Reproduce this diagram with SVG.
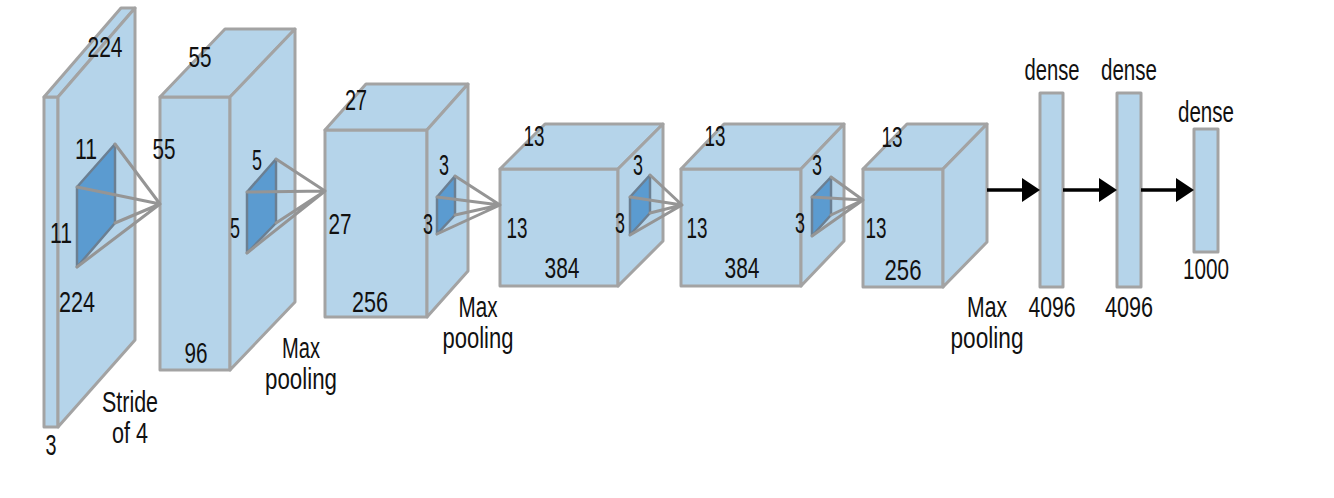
<svg xmlns="http://www.w3.org/2000/svg" width="1334" height="498" viewBox="0 0 1334 498">
<defs>
<style>
.box{fill:#b5d4ea;stroke:#a3a3a3;stroke-width:3;stroke-linejoin:round}
.flt{fill:#5b9bd0;stroke:#6b7f92;stroke-width:2.5;stroke-linejoin:round}
.ray{stroke:#959595;stroke-width:3;fill:none;stroke-linecap:round}
.arr{stroke:#000;stroke-width:3.5;fill:none}
.head{fill:#000}
text{font-family:"Liberation Sans",Arial,sans-serif;font-size:29px;fill:#111;text-anchor:middle}
</style>
</defs>
<rect width="1334" height="498" fill="#fff"/>
<g id="input">
<rect class="box" x="44" y="97" width="14" height="330"/>
<polygon class="box" points="44,97 121,8 135,8 58,97"/>
<polygon class="box" points="58,97 135,8 135,340 58,427"/>
<polygon class="flt" points="77,187 115,144 115,223 77,267"/>
<text x="105" y="57" textLength="35" lengthAdjust="spacingAndGlyphs">224</text>
<text x="86" y="159" textLength="22" lengthAdjust="spacingAndGlyphs">11</text>
<text x="61" y="243" textLength="22" lengthAdjust="spacingAndGlyphs">11</text>
<text x="77" y="312" textLength="36" lengthAdjust="spacingAndGlyphs">224</text>
<text x="51" y="455" textLength="11" lengthAdjust="spacingAndGlyphs">3</text>
<text x="130" y="412" textLength="56" lengthAdjust="spacingAndGlyphs">Stride</text>
<text x="130" y="443" textLength="36" lengthAdjust="spacingAndGlyphs">of 4</text>
</g>
<g id="conv1">
<rect class="box" x="160" y="97" width="70" height="273"/>
<polygon class="box" points="160,97 225,29 295,29 230,97"/>
<polygon class="box" points="230,97 295,29 295,302 230,370"/>
<polygon class="flt" points="247,192 276,159 276,223 247,253"/>
<text x="200" y="67" textLength="23" lengthAdjust="spacingAndGlyphs">55</text>
<text x="164" y="159" textLength="23" lengthAdjust="spacingAndGlyphs">55</text>
<text x="196" y="363" textLength="23" lengthAdjust="spacingAndGlyphs">96</text>
<text x="257" y="170" textLength="10" lengthAdjust="spacingAndGlyphs">5</text>
<text x="235" y="238" textLength="10" lengthAdjust="spacingAndGlyphs">5</text>
<text x="301" y="358" textLength="38" lengthAdjust="spacingAndGlyphs">Max</text>
<text x="301" y="389" textLength="72" lengthAdjust="spacingAndGlyphs">pooling</text>
</g>
<g id="conv2">
<rect class="box" x="325" y="130" width="102" height="187"/>
<polygon class="box" points="325,130 366,84 468,84 427,130"/>
<polygon class="box" points="427,130 468,84 468,271 427,317"/>
<polygon class="flt" points="437,197 455,176 455,215 437,234"/>
<text x="356" y="110" textLength="22" lengthAdjust="spacingAndGlyphs">27</text>
<text x="340" y="234" textLength="23" lengthAdjust="spacingAndGlyphs">27</text>
<text x="370" y="312" textLength="36" lengthAdjust="spacingAndGlyphs">256</text>
<text x="444" y="175" textLength="10" lengthAdjust="spacingAndGlyphs">3</text>
<text x="428" y="234" textLength="10" lengthAdjust="spacingAndGlyphs">3</text>
<text x="478" y="317" textLength="39" lengthAdjust="spacingAndGlyphs">Max</text>
<text x="478" y="348" textLength="71" lengthAdjust="spacingAndGlyphs">pooling</text>
</g>
<g id="conv3">
<rect class="box" x="500" y="169" width="118" height="117"/>
<polygon class="box" points="500,169 545,124 663,124 618,169"/>
<polygon class="box" points="618,169 663,124 663,241 618,286"/>
<polygon class="flt" points="630,197 650,175 650,213 630,235"/>
<text x="534" y="146" textLength="21" lengthAdjust="spacingAndGlyphs">13</text>
<text x="517" y="238" textLength="21" lengthAdjust="spacingAndGlyphs">13</text>
<text x="562" y="278" textLength="35" lengthAdjust="spacingAndGlyphs">384</text>
<text x="638" y="175" textLength="10" lengthAdjust="spacingAndGlyphs">3</text>
<text x="620" y="233" textLength="10" lengthAdjust="spacingAndGlyphs">3</text>
</g>
<g id="conv4">
<rect class="box" x="681" y="169" width="120" height="117"/>
<polygon class="box" points="681,169 724,124 844,124 801,169"/>
<polygon class="box" points="801,169 844,124 844,241 801,286"/>
<polygon class="flt" points="812,197 831,177 831,215 812,236"/>
<text x="715" y="146" textLength="21" lengthAdjust="spacingAndGlyphs">13</text>
<text x="697" y="238" textLength="21" lengthAdjust="spacingAndGlyphs">13</text>
<text x="742" y="278" textLength="35" lengthAdjust="spacingAndGlyphs">384</text>
<text x="817" y="175" textLength="10" lengthAdjust="spacingAndGlyphs">3</text>
<text x="800" y="233" textLength="10" lengthAdjust="spacingAndGlyphs">3</text>
</g>
<g id="conv5">
<rect class="box" x="863" y="169" width="80" height="118"/>
<polygon class="box" points="863,169 907,124 987,124 943,169"/>
<polygon class="box" points="943,169 987,124 987,242 943,287"/>
<text x="892" y="147" textLength="21" lengthAdjust="spacingAndGlyphs">13</text>
<text x="876" y="238" textLength="21" lengthAdjust="spacingAndGlyphs">13</text>
<text x="903" y="280" textLength="37" lengthAdjust="spacingAndGlyphs">256</text>
<text x="987" y="317" textLength="40" lengthAdjust="spacingAndGlyphs">Max</text>
<text x="987" y="348" textLength="73" lengthAdjust="spacingAndGlyphs">pooling</text>
</g>
<g id="dense1">
<rect class="box" x="1040" y="93" width="23" height="194"/>
<text x="1052" y="80" textLength="55" lengthAdjust="spacingAndGlyphs">dense</text>
<text x="1052" y="317" textLength="47" lengthAdjust="spacingAndGlyphs">4096</text>
</g>
<g id="dense2">
<rect class="box" x="1117" y="93" width="24" height="194"/>
<text x="1129" y="80" textLength="56" lengthAdjust="spacingAndGlyphs">dense</text>
<text x="1129" y="317" textLength="48" lengthAdjust="spacingAndGlyphs">4096</text>
</g>
<g id="dense3">
<rect class="box" x="1194" y="129" width="24" height="123"/>
<text x="1206" y="122" textLength="56" lengthAdjust="spacingAndGlyphs">dense</text>
<text x="1206" y="279" textLength="46" lengthAdjust="spacingAndGlyphs">1000</text>
</g>
<g id="connectors">
<path class="ray" d="M115,144L160,204M77,187L160,204M115,223L160,204M77,267L160,204"/>
<path class="ray" d="M276,159L325,191M247,192L325,191M276,223L325,191M247,253L325,191"/>
<path class="ray" d="M455,176L500,205M437,197L500,205M455,215L500,205M437,234L500,205"/>
<path class="ray" d="M650,175L682,205M630,197L682,205M650,213L682,205M630,235L682,205"/>
<path class="ray" d="M831,177L863,200M812,197L863,200M831,215L863,200M812,236L863,200"/>
<line class="arr" x1="987" y1="190" x2="1025" y2="190"/>
<polygon class="head" points="1022,178 1040,190 1022,202"/>
<line class="arr" x1="1063" y1="190" x2="1101" y2="190"/>
<polygon class="head" points="1099,178 1117,190 1099,202"/>
<line class="arr" x1="1141" y1="190" x2="1178" y2="190"/>
<polygon class="head" points="1176,178 1194,190 1176,202"/>
</g>
</svg>
